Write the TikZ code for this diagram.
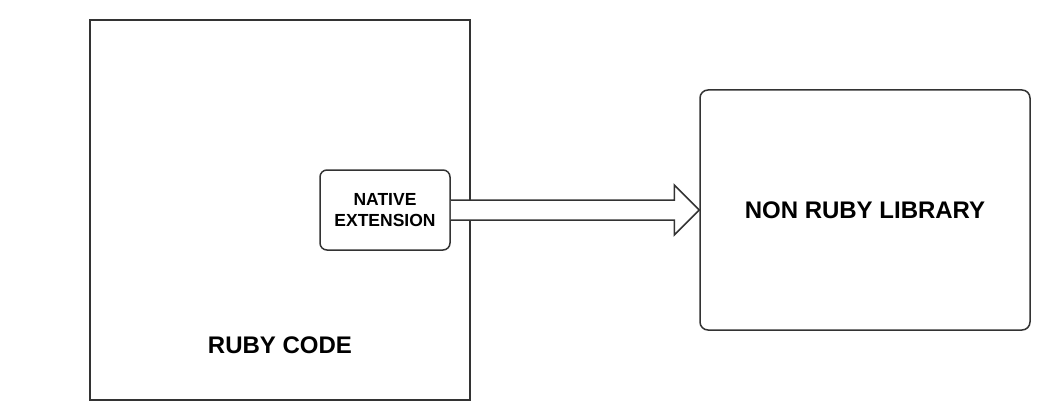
\documentclass[tikz,border=0pt]{standalone}
\usepackage{fontspec}
\setmainfont{Liberation Sans}
\usetikzlibrary{calc}
\definecolor{edge}{HTML}{333333}
\begin{document}
\begin{tikzpicture}[x=1pt,y=-1pt,
  box/.style={draw=edge, line width=1.5pt, fill=white},
  rbox/.style={box, rounded corners=7pt},
  lbl/.style={font=\bfseries, text=black, align=center}]
\useasboundingbox (0,0) rectangle (1050,420);
\node[box, minimum width=380pt, minimum height=380pt, inner sep=0pt] (ruby) at (280,210) {};
\node[lbl, font=\fontsize{24pt}{28pt}\selectfont\bfseries] (rubylbl) at (280,345) {RUBY CODE};
\node[rbox, minimum width=130pt, minimum height=80pt, inner sep=0pt] (native) at (385,210) {};
\node[lbl, font=\fontsize{17.5pt}{21pt}\selectfont\bfseries] (nativelbl) at (385,210) {NATIVE\\EXTENSION};
\node[rbox, minimum width=330pt, minimum height=240pt, inner sep=0pt, rounded corners=8pt] (lib) at (865,210) {};
\node[lbl, font=\fontsize{24pt}{28pt}\selectfont\bfseries] (liblbl) at (865,210) {NON RUBY LIBRARY};
\coordinate (s) at (native.east);
\coordinate (t) at (lib.west);
\draw[draw=edge, line width=1.5pt, fill=white, line join=miter]
  ($(s)+(0,-10)$) -- ($(t)+(-25,-10)$) -- ($(t)+(-25,-25)$) -- (t)
  -- ($(t)+(-25,25)$) -- ($(t)+(-25,10)$) -- ($(s)+(0,10)$);
\end{tikzpicture}
\end{document}
